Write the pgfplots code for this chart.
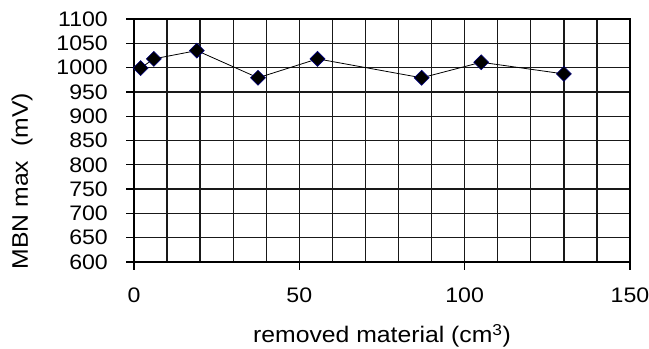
\documentclass[border=0pt]{standalone}
\usepackage{fontspec}
\setmainfont[FakeStretch=1.1]{Liberation Sans}
\usepackage{pgfplots}
\pgfplotsset{compat=1.18}
\definecolor{navy}{HTML}{000080}
\begin{document}
\begin{tikzpicture}
\path[use as bounding box] (0,0) rectangle (649bp,349bp);
\begin{axis}[
  at={(134bp,87bp)}, anchor=south west,
  scale only axis, width=496bp, height=243bp,
  xmin=0, xmax=150, ymin=600, ymax=1100,
  xtick={0,50,100,150}, minor x tick num=4,
  ytick={600,650,...,1100},
  grid=both,
  major grid style={black!90, line width=1.3bp},
  minor grid style={black!90, line width=1.3bp},
  axis line style={black, line width=1.3bp},
  tick style={black, line width=1.3bp},
  tick align=outside, major tick length=8bp, minor tick length=0pt,
  xtick pos=bottom, ytick pos=left,
  /pgf/number format/assume math mode=true,
  /pgf/number format/1000 sep={},
  tick label style={font=\fontsize{21bp}{25bp}\selectfont},
  yticklabel style={anchor=east, inner sep=0pt, xshift=-18bp},
  xticklabel style={anchor=north, inner sep=0pt, yshift=-18bp},
  xlabel={removed material (cm\textsuperscript{3})},
  ylabel={MBN max\,\, (mV)},
  label style={font=\fontsize{22.5bp}{26bp}\selectfont},
  xlabel style={at={(axis description cs:0.5,0)}, anchor=center, yshift=-74bp},
  ylabel style={at={(axis description cs:-0.2258,0.333)}, anchor=center},
]
\addplot[black, line width=0.8bp, mark=square*, mark size=5.3bp,
  mark options={rotate=45, fill=black, draw=navy, line width=0.6bp}]
  coordinates {(2,999) (6,1018) (19,1035) (37.5,979) (55.5,1018) (87,979) (105,1011) (130,987)};
\end{axis}
\end{tikzpicture}
\end{document}
